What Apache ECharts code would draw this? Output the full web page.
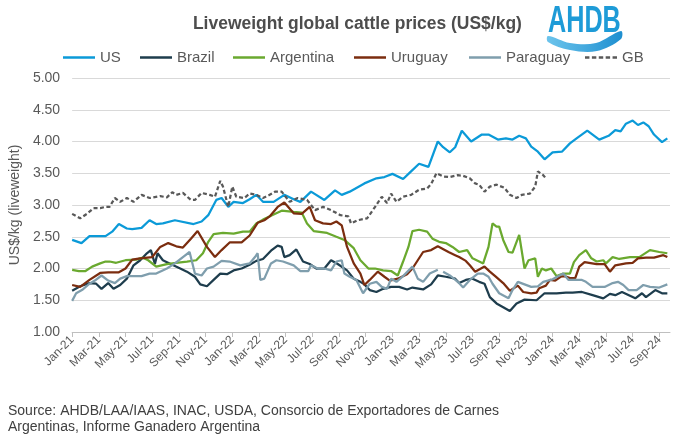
<!DOCTYPE html>
<html>
<head>
<meta charset="utf-8">
<script src="https://cdn.jsdelivr.net/npm/echarts@6/dist/echarts.min.js"></script>
<style>html,body{margin:0;padding:0;background:#fff}#c{width:673px;height:439px}</style>
</head>
<body>
<div id="c"></div>
<script>
// x = months since Jan-21 (weekly observations sampled from the chart), y = US$/kg
const tickLabels = ['Jan-21','Mar-21','May-21','Jul-21','Sep-21','Nov-21','Jan-22','Mar-22','May-22','Jul-22','Sep-22','Nov-22','Jan-23','Mar-23','May-23','Jul-23','Sep-23','Nov-23','Jan-24','Mar-24','May-24','Jul-24','Sep-24'];
const seriesNames = ['US','Brazil','Argentina','Uruguay','Paraguay','GB'];

const us = [[0,2.45],[0.7,2.40],[1.3,2.51],[2.5,2.51],[3.0,2.58],[3.5,2.70],[4.1,2.63],[4.5,2.62],[5.2,2.64],[5.8,2.76],[6.3,2.70],[6.8,2.71],[7.7,2.76],[9.1,2.70],[9.7,2.74],[10.2,2.84],[10.8,3.08],[11.2,3.11],[11.7,2.97],[12.1,3.05],[12.8,3.03],[13.3,3.09],[13.8,3.16],[14.3,3.05],[15.1,3.05],[15.9,3.16],[16.6,3.09],[17.1,3.05],[17.9,3.21],[18.9,3.08],[19.7,3.23],[20.2,3.16],[20.8,3.21],[21.9,3.34],[22.8,3.42],[23.4,3.44],[24.0,3.49],[24.8,3.41],[25.3,3.51],[26.0,3.65],[26.7,3.60],[27.4,4.00],[27.8,3.91],[28.3,3.83],[28.7,3.91],[29.2,4.17],[29.9,4.00],[30.7,4.11],[31.2,4.11],[31.9,4.03],[32.5,4.05],[33.0,4.03],[33.5,4.09],[34.0,4.05],[34.4,3.92],[34.9,3.84],[35.4,3.72],[36.0,3.83],[36.7,3.84],[37.3,3.97],[37.8,4.05],[38.6,4.17],[39.5,4.03],[40.2,4.09],[40.7,4.18],[41.1,4.16],[41.5,4.28],[42.0,4.33],[42.4,4.26],[42.8,4.30],[43.2,4.24],[43.6,4.11],[44.2,3.99],[44.6,4.05]];

const brazil = [[0,1.65],[0.6,1.72],[1.3,1.77],[1.8,1.76],[2.2,1.68],[2.7,1.77],[3.1,1.68],[3.6,1.74],[4.1,1.84],[4.6,2.05],[5.1,2.13],[5.6,2.24],[5.9,2.29],[6.2,2.07],[6.4,2.24],[6.8,2.13],[7.3,2.08],[8.1,2.00],[8.6,1.95],[9.2,1.87],[9.6,1.75],[10.1,1.72],[10.6,1.82],[11.1,1.92],[11.6,1.91],[12.1,1.97],[12.7,2.00],[13.3,2.06],[13.8,2.12],[14.3,2.15],[14.9,2.28],[15.4,2.36],[15.7,2.34],[15.9,2.18],[16.3,2.21],[16.8,2.30],[17.3,2.11],[17.8,2.07],[18.3,2.00],[18.9,2.00],[19.4,2.13],[19.9,2.07],[20.6,1.97],[21.1,1.84],[21.6,1.79],[21.9,1.75],[22.3,1.66],[22.8,1.63],[23.3,1.68],[23.9,1.71],[24.5,1.71],[25.1,1.67],[25.5,1.70],[26.3,1.67],[26.9,1.75],[27.4,1.89],[28.0,1.87],[28.7,1.84],[29.0,1.77],[29.5,1.82],[30.0,1.84],[30.5,1.79],[30.9,1.76],[31.3,1.55],[31.8,1.45],[32.3,1.39],[32.8,1.33],[33.3,1.45],[33.9,1.51],[34.8,1.50],[35.4,1.61],[36.3,1.61],[37.0,1.62],[37.5,1.62],[38.2,1.63],[39.0,1.58],[39.8,1.53],[40.3,1.60],[40.7,1.58],[41.2,1.63],[42.2,1.53],[42.7,1.61],[43.0,1.55],[43.7,1.66],[44.2,1.61],[44.6,1.61]];

const argentina = [[0,1.98],[0.5,1.96],[1.0,1.96],[1.5,2.03],[2.1,2.08],[2.5,2.11],[2.8,2.11],[3.3,2.09],[4.0,2.13],[4.8,2.14],[5.3,2.17],[5.7,2.13],[6.3,2.03],[7.1,2.07],[7.8,2.09],[8.6,2.11],[9.3,2.13],[9.8,2.24],[10.2,2.42],[10.6,2.54],[11.3,2.56],[12.1,2.55],[12.8,2.58],[13.3,2.58],[13.8,2.71],[14.3,2.77],[14.9,2.83],[15.7,2.91],[16.6,2.89],[17.2,2.88],[17.6,2.71],[18.1,2.59],[19.1,2.56],[19.8,2.50],[20.4,2.45],[21.1,2.32],[21.6,2.13],[22.2,2.00],[22.7,2.00],[23.3,1.97],[23.9,1.96],[24.4,1.89],[24.8,2.11],[25.2,2.34],[25.5,2.59],[26.0,2.61],[26.6,2.58],[27.0,2.47],[27.5,2.42],[28.0,2.40],[28.5,2.34],[29.0,2.26],[29.6,2.29],[30.0,2.16],[30.5,2.11],[30.8,2.08],[31.2,2.34],[31.5,2.71],[31.8,2.66],[32.0,2.66],[32.3,2.45],[32.7,2.26],[33.0,2.25],[33.5,2.53],[33.9,2.00],[34.2,2.13],[34.7,2.16],[34.9,1.87],[35.2,2.00],[35.5,1.97],[35.9,2.00],[36.3,1.88],[36.8,1.92],[37.3,1.92],[37.6,2.10],[38.0,2.21],[38.5,2.29],[38.9,2.16],[39.3,2.11],[39.8,2.13],[40.0,2.08],[40.5,2.18],[41.0,2.15],[41.8,2.18],[42.5,2.18],[43.3,2.29],[44.0,2.26],[44.6,2.24]];

const uruguay = [[0,1.74],[0.6,1.71],[1.3,1.82],[2.1,1.93],[2.7,1.94],[3.5,1.94],[4.0,2.00],[4.5,2.14],[5.1,2.16],[6.0,2.18],[6.6,2.34],[7.2,2.40],[7.8,2.35],[8.3,2.33],[8.9,2.47],[9.4,2.59],[10.1,2.34],[10.7,2.18],[11.2,2.29],[11.8,2.41],[12.7,2.41],[13.3,2.52],[13.9,2.72],[14.4,2.76],[14.8,2.82],[15.4,2.97],[15.9,3.04],[16.6,2.87],[17.2,2.86],[17.8,2.97],[18.2,2.76],[18.8,2.71],[19.4,2.70],[19.8,2.74],[20.2,2.68],[20.6,2.34],[21.1,2.08],[21.6,1.92],[21.9,1.74],[22.3,1.82],[22.9,1.95],[23.4,1.87],[23.8,1.81],[24.4,1.84],[25.1,1.91],[25.5,2.00],[26.3,2.26],[26.9,2.29],[27.4,2.35],[28.2,2.26],[28.7,2.21],[29.0,2.18],[29.5,2.12],[29.8,2.05],[30.2,1.95],[30.9,2.03],[31.3,1.95],[31.7,1.88],[32.3,1.77],[32.8,1.65],[33.4,1.73],[33.8,1.63],[34.4,1.61],[34.8,1.62],[35.0,1.69],[35.5,1.73],[35.8,1.82],[36.2,1.81],[36.6,1.87],[36.9,1.88],[37.3,1.85],[37.7,1.85],[38.0,2.03],[38.4,2.10],[39.3,2.07],[39.9,2.07],[40.3,1.95],[40.7,2.05],[41.5,2.08],[42.0,2.09],[42.4,2.16],[43.0,2.17],[43.6,2.17],[44.3,2.21],[44.6,2.18]];

const paraguay = [[0,1.49],[0.3,1.61],[0.8,1.67],[1.3,1.76],[1.7,1.81],[2.2,1.89],[2.7,1.81],[3.2,1.77],[3.6,1.84],[4.1,1.88],[4.7,1.88],[5.2,1.88],[5.8,1.92],[6.3,1.92],[7.1,2.00],[7.7,2.08],[8.3,2.18],[8.8,2.26],[9.2,1.92],[9.7,1.89],[10.1,2.00],[10.6,2.03],[11.2,2.12],[11.8,2.11],[12.6,2.05],[13.3,2.08],[13.7,2.18],[13.9,2.24],[14.1,1.82],[14.4,1.84],[14.9,2.08],[15.3,2.13],[15.8,2.11],[16.6,2.05],[17.1,1.96],[17.7,1.96],[17.9,2.05],[18.4,2.00],[18.9,2.00],[19.4,1.97],[19.8,2.11],[20.2,2.13],[20.4,1.92],[20.8,1.87],[21.3,1.82],[21.8,1.61],[22.3,1.76],[22.8,1.79],[23.2,1.71],[23.6,1.68],[23.9,1.84],[24.3,1.79],[24.8,1.88],[25.5,2.03],[25.9,1.84],[26.3,1.79],[26.8,1.92],[27.4,1.98],[27.6,null],[27.8,1.95],[28.3,1.89],[28.9,1.79],[29.3,1.70],[29.8,1.82],[30.4,1.92],[30.8,1.92],[31.2,1.87],[31.5,1.76],[32.0,1.61],[32.7,1.53],[33.0,1.66],[33.4,1.79],[33.9,1.75],[34.4,1.71],[34.9,1.72],[35.3,1.79],[36.0,1.83],[36.8,1.92],[37.2,1.82],[37.5,1.82],[38.2,1.82],[38.5,1.79],[39.0,1.71],[39.9,1.71],[40.5,1.77],[40.9,1.79],[41.3,1.74],[41.7,1.66],[42.3,1.66],[42.8,1.74],[43.3,1.71],[44.0,1.70],[44.6,1.75]];

const gb = [[0,2.86],[0.6,2.79],[1.1,2.86],[1.6,2.95],[2.1,2.95],[2.5,2.97],[2.8,2.97],[3.2,3.11],[3.6,3.05],[4.1,3.11],[4.6,3.05],[5.2,3.16],[5.8,3.11],[6.6,3.14],[7.1,3.12],[7.5,3.20],[7.8,3.16],[8.3,3.19],[8.9,3.08],[9.2,3.08],[9.7,3.19],[10.3,3.16],[10.7,3.13],[11.1,3.38],[11.3,3.29],[11.7,2.97],[12.0,3.29],[12.3,3.13],[12.9,3.11],[13.3,3.18],[13.8,3.16],[14.3,3.11],[14.8,3.16],[15.2,3.21],[15.7,3.21],[16.3,3.05],[16.9,3.11],[17.6,3.08],[18.2,2.92],[18.8,2.97],[19.4,2.92],[20.1,2.84],[20.7,2.82],[20.9,2.71],[21.4,2.76],[22.1,2.79],[22.7,2.97],[23.2,3.13],[23.6,3.03],[23.9,3.18],[24.3,3.05],[24.8,3.13],[25.4,3.16],[26.0,3.24],[26.6,3.26],[26.9,3.33],[27.3,3.50],[27.8,3.45],[28.3,3.44],[28.9,3.47],[29.3,3.46],[29.8,3.42],[30.2,3.34],[30.5,3.32],[30.9,3.21],[31.3,3.29],[31.8,3.32],[32.4,3.27],[32.8,3.16],[33.3,3.11],[33.7,3.16],[34.3,3.18],[34.7,3.29],[34.9,3.53],[35.3,3.47],[35.5,3.42]];

const FONT = "'Liberation Sans', Arial, sans-serif";
const colors = {US:'#0b9ad8', Brazil:'#1e3d4d', Argentina:'#6aa92f', Uruguay:'#7b2d0f', Paraguay:'#7f9ead', GB:'#595959'};
const dataMap = {US:us, Brazil:brazil, Argentina:argentina, Uruguay:uruguay, Paraguay:paraguay, GB:gb};

const chart = echarts.init(document.getElementById('c'), null, {renderer:'canvas'});

const dashIcon = 'path://M0,0h4.5v2h-4.5z M7,0h4.5v2h-4.5z M14,0h4.5v2h-4.5z M21,0h4.5v2h-4.5z M28,0h4.5v2h-4.5z';
const legendLeft = {US:58, Brazil:135, Argentina:228, Uruguay:349, Paraguay:464, GB:580};
const legends = seriesNames.map(n => ({
  data:[{name:n, icon: n === 'GB' ? dashIcon : 'rect'}],
  left: legendLeft[n], top: 45, itemWidth: 32, itemHeight: 2.5, symbolKeepAspect:false,
  textStyle:{fontFamily:FONT, fontSize:15, color:'#595959'}, selectedMode:false
}));

const series = seriesNames.map(n => ({
  name:n, type:'line', symbol:'none', showSymbol:false, connectNulls:false,
  data: dataMap[n].map(p => [p[0], p[1] === null ? '-' : p[1]]),
  lineStyle:{color:colors[n], width: 2.25, type: n==='GB' ? [4,2.5] : 'solid'},
  itemStyle:{color:colors[n]},
  z: n==='GB' ? 3 : 2
}));

chart.setOption({
  animation:false,
  backgroundColor:'#fff',
  legend: legends,
  grid:{left:72, right:3, top:78, bottom:107, containLabel:false},
  xAxis:{
    type:'value', min:0, max:44.8, interval:2,
    axisLine:{show:true, lineStyle:{color:'#bfbfbf', width:1}},
    axisTick:{show:true, length:5, lineStyle:{color:'#bfbfbf'}},
    splitLine:{show:false},
    axisLabel:{
      rotate:45, margin:6, fontFamily:FONT, fontSize:12, color:'#595959',
      showMaxLabel:false,
      formatter: v => (Math.abs(v - Math.round(v)) < 1e-6 && Math.round(v) % 2 === 0 && Math.round(v)/2 < tickLabels.length) ? tickLabels[Math.round(v)/2] : ''
    }
  },
  yAxis:{
    type:'value', min:1, max:5, interval:0.5,
    name:'US$/kg (liveweight)', nameLocation:'middle', nameGap:46, nameRotate:90,
    nameTextStyle:{fontFamily:FONT, fontSize:14, color:'#595959'},
    axisLine:{show:false}, axisTick:{show:false},
    splitLine:{lineStyle:{color:'#d9d9d9', width:1}},
    axisLabel:{fontFamily:FONT, fontSize:14, color:'#595959', margin:12, formatter: v => v.toFixed(2)}
  },
  graphic:[
    {type:'text', x:347, y:24, scaleX:0.97, originX:347, z:10,
      style:{text:'Liveweight global cattle prices (US$/kg)', fontFamily:FONT, fontSize:18, fontWeight:'bold', fill:'#4d4d4d', align:'center', verticalAlign:'middle'}},
    {type:'text', x:548, y:4, scaleX:0.7, z:10,
      style:{text:'AHDB', fontFamily:FONT, fontSize:36, fontWeight:'bold', fill:'#1e9bd7'}},
    {type:'polygon', z:10,
      shape:{points:[[548,36],[570,43],[596,43],[621,31],[621,39],[597,51],[570,50],[548,42]], smooth:0.35},
      style:{fill:{type:'linear', x:0, y:0, x2:1, y2:0, colorStops:[{offset:0,color:'#6cc4ec'},{offset:1,color:'#1e8fd0'}]}}},
    {type:'text', left:8, top:403, z:10,
      style:{text:'Source: AHDB/LAA/IAAS, INAC, USDA, Consorcio de Exportadores de Carnes\nArgentinas, Informe Ganadero Argentina', fontFamily:FONT, fontSize:14, lineHeight:16, fill:'#404040'}}
  ],
  series: series
});
</script>
</body>
</html>
